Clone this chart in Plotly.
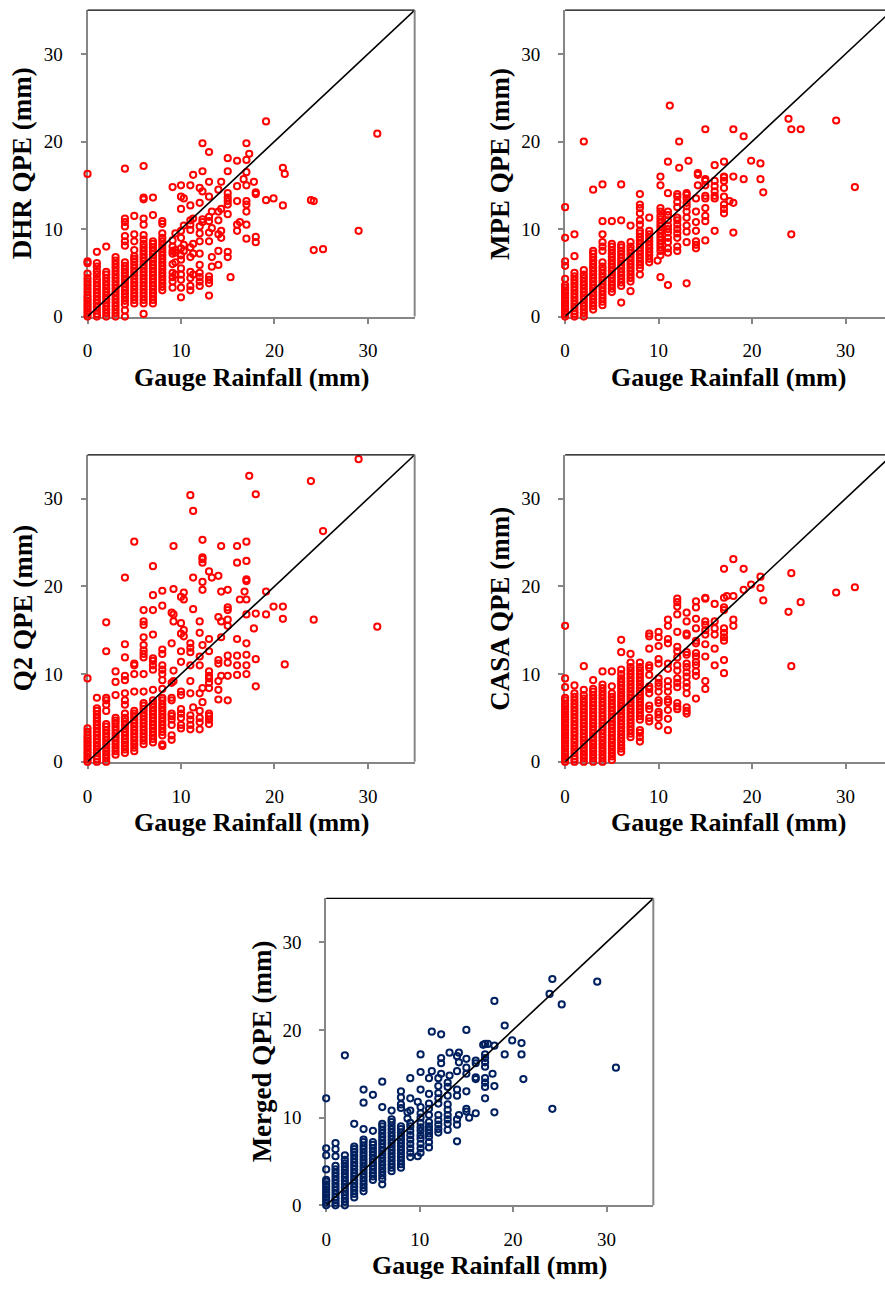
import plotly.graph_objects as go

# ---------------------------------------------------------------------------
# Gauge rainfall columns (mm) and the QPE values observed at each column (mm)
# ---------------------------------------------------------------------------
dhr_gauge = [0, 1, 2, 3, 4, 5, 6, 7, 8, 9.1, 9.4, 10.0, 10.3, 11.0, 11.3, 12.0, 12.3,
             13.0, 13.3, 14.0, 14.3, 15.0, 15.3, 16.0, 16.3, 16.7, 17.0, 17.3, 17.8,
             18.0, 19.1, 19.9, 20.9, 21.1, 23.9, 24.2, 25.2, 29.0, 31.0]
dhr_qpe = [
    [0, 0.3, 0.6, 0.9, 1.2, 1.5, 1.8, 2.1, 2.4, 2.8, 3.2, 3.6, 4.0, 4.4, 4.9, 6.1, 6.3, 16.3],
    [0, 0.3, 0.7, 1.1, 1.5, 1.9, 2.3, 2.7, 3.1, 3.5, 3.9, 4.3, 4.8, 5.2, 5.7, 6.1, 7.4],
    [0, 0.4, 0.8, 1.2, 1.6, 2.0, 2.4, 2.8, 3.2, 3.6, 4.0, 4.4, 4.8, 5.1, 8.0],
    [0, 0.4, 0.8, 1.2, 1.6, 2.0, 2.4, 2.8, 3.2, 3.6, 4.0, 4.4, 4.8, 5.2, 5.6, 6.0, 6.4, 6.8],
    [0, 0.7, 1.4, 1.8, 2.2, 2.6, 3.0, 3.4, 3.8, 4.2, 4.6, 5.0, 5.4, 5.8, 6.2, 8.1, 8.6, 9.2,
     10.3, 10.8, 11.2, 16.9],
    [1.5, 1.9, 2.3, 2.7, 3.1, 3.5, 3.9, 4.3, 4.7, 5.1, 5.5, 5.9, 6.3, 6.6, 6.9, 7.6, 8.6, 9.4, 11.5],
    [0.3, 1.5, 1.9, 2.3, 2.7, 3.1, 3.5, 3.9, 4.3, 4.7, 5.1, 5.5, 5.9, 6.3, 6.7, 7.1, 7.5, 7.9,
     8.3, 8.8, 9.3, 10.5, 11.2, 13.4, 13.6, 17.2],
    [1.5, 1.9, 2.3, 2.7, 3.1, 3.5, 3.9, 4.3, 4.7, 5.1, 5.5, 5.9, 6.3, 6.7, 7.1, 7.5, 7.9, 8.3,
     8.6, 11.6, 13.6],
    [3.0, 3.4, 3.8, 4.2, 4.6, 5.0, 5.4, 5.8, 6.2, 6.6, 7.0, 7.4, 7.8, 8.2, 8.6, 9.0, 9.5, 10.6, 10.9],
    [3.3, 4.0, 4.5, 5.0, 6.0, 7.2, 7.5, 8.0, 8.7, 14.8],
    [4.8, 6.2, 7.3, 7.6, 9.5],
    [2.2, 3.3, 4.2, 4.8, 5.5, 6.5, 7.0, 7.8, 9.0, 9.8, 12.3, 13.7, 15.0],
    [7.5, 8.2, 10.4, 13.5],
    [3.0, 3.5, 4.4, 5.1, 6.8, 7.9, 9.9, 10.5, 11.0, 12.7, 15.0],
    [4.8, 7.2, 8.3, 11.2, 16.2],
    [3.5, 4.0, 4.5, 5.0, 5.9, 7.2, 8.6, 9.5, 10.3, 13.0, 14.7],
    [10.8, 11.1, 14.3, 16.6, 19.8],
    [2.4, 3.8, 4.2, 4.6, 8.6, 9.6, 10.9, 11.4, 13.7, 15.4, 18.8],
    [5.7, 6.8, 10.1, 12.0],
    [5.9, 7.5, 9.4, 11.0, 12.0, 14.5],
    [9.0, 9.8, 12.3, 15.4],
    [6.8, 7.4, 11.7, 12.8, 13.2, 13.6, 14.1, 16.6, 18.1],
    [4.5],
    [9.8, 10.5, 13.2, 14.9, 17.8],
    [10.8],
    [15.7],
    [8.9, 10.5, 12.0, 12.8, 13.2, 15.0, 16.5, 17.9, 19.8],
    [18.6],
    [15.4],
    [8.5, 9.1, 14.0, 14.2],
    [13.3, 22.3],
    [13.5],
    [12.7, 17.0],
    [16.3],
    [13.3],
    [13.2, 7.6],
    [7.7],
    [9.8],
    [20.9],
]

mpe_gauge = [0, 1, 2, 3, 4, 5, 6, 7, 8, 9, 9.9, 10.2, 11.0, 11.2, 12.0, 12.2, 13.0, 13.2,
             14.0, 14.2, 15.0, 16.0, 17.0, 17.6, 18.0, 19.1, 19.9, 20.9, 21.2, 23.9, 24.2,
             25.2, 29.0, 31.0]
mpe_qpe = [
    [0, 0.3, 0.6, 0.9, 1.2, 1.5, 1.8, 2.1, 2.4, 2.7, 3.0, 3.3, 3.6, 4.3, 5.8, 6.3, 9.0, 12.5],
    [0, 0.3, 0.6, 1.0, 1.4, 1.8, 2.2, 2.6, 3.0, 3.4, 3.8, 4.2, 4.6, 5.0, 6.9, 9.4],
    [0, 0.4, 0.8, 1.2, 1.6, 2.0, 2.4, 2.8, 3.2, 3.6, 4.0, 4.4, 4.8, 5.3, 20.0],
    [0.8, 1.2, 1.6, 2.0, 2.4, 2.8, 3.2, 3.6, 4.0, 4.4, 4.8, 5.2, 5.6, 6.0, 6.4, 6.8, 7.2, 7.5, 14.5],
    [1.3, 1.7, 2.1, 2.5, 2.9, 3.3, 3.7, 4.1, 4.5, 4.9, 5.3, 5.7, 6.2, 7.5, 8.0, 8.5, 9.4, 10.9, 15.1],
    [2.8, 3.2, 3.6, 4.0, 4.4, 4.8, 5.2, 5.6, 6.0, 6.4, 6.8, 7.2, 7.6, 8.0, 8.3, 10.9],
    [1.6, 3.5, 3.9, 4.3, 4.7, 5.1, 5.5, 5.9, 6.3, 6.7, 7.1, 7.5, 7.9, 8.2, 11.0, 15.1],
    [2.9, 4.0, 4.4, 4.8, 5.2, 5.6, 6.0, 6.4, 6.8, 7.2, 7.6, 8.0, 8.5, 10.4],
    [4.8, 5.5, 5.9, 6.3, 6.7, 7.1, 7.5, 7.9, 8.3, 8.7, 9.1, 9.5, 9.8, 10.5, 11.0, 11.8, 12.4,
     12.8, 14.0],
    [6.2, 6.6, 7.0, 7.4, 7.8, 8.2, 8.6, 9.0, 9.4, 9.8, 11.3],
    [6.4],
    [4.5, 7.0, 7.5, 7.9, 8.3, 8.7, 9.1, 9.5, 9.9, 10.3, 10.7, 11.1, 11.5, 12.0, 12.4, 15.0, 16.0],
    [3.6, 7.3, 7.8, 8.5, 9.0, 9.6, 10.0, 10.4, 11.0, 11.6, 12.0, 14.1, 17.7],
    [24.1],
    [7.5, 8.0, 9.0, 9.5, 10.0, 10.5, 11.0, 11.3, 12.5, 13.1, 13.7, 14.0],
    [17.0, 20.0],
    [3.8, 8.5, 9.7, 10.4, 11.3, 12.0, 12.6, 13.0, 13.5, 13.9, 14.1],
    [17.8],
    [7.8, 8.2, 8.6, 9.8, 10.8, 12.0, 13.5],
    [15.0, 16.2, 16.4],
    [8.7, 10.9, 11.5, 12.4, 13.5, 13.8, 15.0, 15.5, 15.7, 21.4],
    [9.8, 13.5, 13.8, 14.3, 14.9, 15.5, 17.3],
    [11.8, 12.3, 12.8, 13.7, 14.7, 15.5, 15.9, 16.0, 17.7],
    [13.2],
    [9.6, 13.0, 16.0, 21.4],
    [15.7, 20.6],
    [17.8],
    [15.7, 17.5],
    [14.2],
    [22.6],
    [21.4, 9.4],
    [21.4],
    [22.4],
    [14.8],
]

q2_gauge = [0, 1, 2, 3, 4, 5, 6, 7, 8, 9.0, 9.2, 10.0, 10.3, 11.0, 11.3, 12.0, 12.3, 13.0,
            13.3, 14.0, 14.3, 15.0, 16.0, 16.3, 16.8, 17.0, 17.3, 17.8, 18.0, 19.1, 19.9,
            20.9, 21.1, 23.9, 24.2, 25.2, 29.0, 31.0]
q2_qpe = [
    [0, 0.3, 0.6, 0.9, 1.2, 1.5, 1.8, 2.1, 2.4, 2.7, 3.0, 3.4, 3.8, 9.5],
    [0, 0.3, 0.6, 1.0, 1.4, 1.8, 2.2, 2.6, 3.0, 3.4, 3.8, 4.2, 4.6, 5.0, 5.4, 5.8, 6.1, 7.3],
    [0, 0.4, 0.8, 1.2, 1.6, 2.0, 2.4, 2.8, 3.2, 3.6, 4.0, 4.3, 5.8, 6.5, 7.0, 7.3, 12.6, 15.9],
    [0.8, 1.2, 1.6, 2.0, 2.4, 2.8, 3.2, 3.6, 4.0, 4.4, 4.7, 5.0, 7.6, 9.1, 10.3],
    [1.0, 1.4, 1.8, 2.2, 2.6, 3.0, 3.4, 3.8, 4.2, 4.6, 5.0, 5.5, 6.5, 7.0, 7.8, 9.3, 9.8, 11.9,
     13.4, 21.0],
    [1.2, 1.6, 2.0, 2.4, 2.8, 3.2, 3.6, 4.0, 4.4, 4.8, 5.2, 5.5, 5.8, 8.0, 10.0, 11.0, 11.2, 25.1],
    [2.0, 2.4, 2.8, 3.2, 3.6, 4.0, 4.4, 4.8, 5.2, 5.6, 6.0, 6.4, 6.7, 8.0, 10.0, 11.9, 12.3,
     12.7, 13.3, 14.2, 15.6, 16.0, 17.3],
    [2.2, 2.6, 3.0, 3.4, 3.8, 4.2, 4.6, 5.0, 5.4, 5.8, 6.2, 6.6, 7.0, 8.2, 10.5, 11.0, 11.5,
     11.8, 14.5, 17.3, 19.0, 22.3],
    [1.8, 2.0, 3.0, 3.4, 3.8, 4.2, 4.6, 5.0, 5.4, 5.8, 6.2, 6.6, 7.0, 7.3, 8.3, 9.3, 10.0,
     10.5, 11.0, 12.3, 12.8, 17.8, 19.5],
    [2.5, 3.0, 4.2, 4.8, 5.2, 5.5, 7.0, 7.3, 9.0, 13.5, 17.0],
    [9.2, 10.4, 16.0, 16.8, 19.7, 24.6],
    [3.8, 4.2, 5.0, 5.5, 6.0, 7.6, 8.0, 11.4, 12.6, 14.6, 15.8, 18.8],
    [14.3, 15.0, 18.5, 19.3],
    [3.7, 4.2, 4.8, 5.3, 7.8, 9.2, 11.0, 12.5, 13.0, 13.5, 30.4],
    [6.2, 17.4, 21.0, 28.6],
    [3.7, 4.5, 5.0, 5.8, 7.8, 11.0, 12.0, 14.7, 16.0],
    [6.8, 8.4, 13.3, 19.6, 20.5, 22.7, 23.1, 23.3, 25.3],
    [4.3, 4.8, 5.2, 5.5, 8.4, 9.0, 9.5, 9.8, 10.3, 12.6, 14.0, 21.7],
    [21.0],
    [7.1, 8.2, 9.2, 11.2, 11.6, 16.5, 21.2],
    [9.8, 14.2, 16.0, 19.4, 24.6],
    [7.0, 9.8, 11.3, 12.1, 15.5, 16.2, 17.3, 17.6, 19.6],
    [9.9, 11.0, 12.1, 14.0, 22.7, 24.6],
    [18.5],
    [19.4],
    [10.0, 11.0, 12.2, 13.5, 16.8, 18.5, 20.6, 20.8, 22.9, 25.1],
    [32.6],
    [15.2],
    [8.6, 11.7, 16.9, 30.5],
    [16.8, 19.4],
    [17.7],
    [16.3, 17.7],
    [11.1],
    [32.0],
    [16.2],
    [26.3],
    [34.5],
    [15.4],
]

casa_gauge = [0, 1, 2, 3, 4, 5, 6, 7, 8, 9, 10, 11, 12, 13, 14, 15, 16, 17, 17.3, 18,
              19.1, 19.9, 20.9, 21.2, 23.9, 24.2, 25.2, 29.0, 31.0]
casa_qpe = [
    [0, 0.3, 0.6, 0.9, 1.2, 1.5, 1.8, 2.1, 2.4, 2.7, 3.0, 3.3, 3.6, 3.9, 4.2, 4.5, 4.8, 5.1,
     5.4, 5.7, 6.0, 6.3, 6.6, 7.0, 7.3, 8.5, 9.5, 15.5],
    [0, 0.3, 0.6, 1.0, 1.4, 1.8, 2.2, 2.6, 3.0, 3.4, 3.8, 4.2, 4.6, 5.0, 5.4, 5.8, 6.2, 6.6,
     7.0, 7.4, 7.8, 8.7],
    [0, 0.4, 0.8, 1.2, 1.6, 2.0, 2.4, 2.8, 3.2, 3.6, 4.0, 4.4, 4.8, 5.2, 5.6, 6.0, 6.4, 6.8,
     7.2, 7.6, 8.2, 10.9],
    [0, 0.4, 0.8, 1.2, 1.6, 2.0, 2.4, 2.8, 3.2, 3.6, 4.0, 4.4, 4.8, 5.2, 5.6, 6.0, 6.4, 6.8,
     7.2, 7.6, 8.0, 8.3, 9.3],
    [0, 0.4, 0.8, 1.2, 1.6, 2.0, 2.4, 2.8, 3.2, 3.6, 4.0, 4.4, 4.8, 5.2, 5.6, 6.0, 6.4, 6.8,
     7.2, 7.6, 8.0, 8.4, 8.8, 10.3],
    [0.2, 0.6, 1.0, 1.4, 1.8, 2.2, 2.6, 3.0, 3.4, 3.8, 4.2, 4.6, 5.0, 5.4, 5.8, 6.2, 6.6, 7.0,
     7.4, 7.8, 8.6, 10.3],
    [1.1, 1.5, 1.9, 2.3, 2.7, 3.1, 3.5, 3.9, 4.3, 4.7, 5.1, 5.5, 5.9, 6.3, 6.7, 7.1, 7.5, 7.9,
     8.3, 8.7, 9.1, 9.5, 10.0, 10.5, 12.5, 13.9],
    [2.8, 3.2, 3.6, 4.0, 4.4, 4.8, 5.2, 5.6, 6.0, 6.4, 6.8, 7.2, 7.6, 8.0, 8.4, 8.8, 9.2, 9.6,
     10.0, 10.4, 10.8, 11.3, 12.3],
    [2.3, 2.8, 3.3, 3.6, 4.8, 5.2, 5.6, 6.0, 6.4, 6.8, 7.2, 7.6, 8.0, 8.4, 8.8, 9.2, 9.6, 10.0,
     10.4, 10.8, 11.3],
    [4.6, 5.0, 6.0, 6.4, 7.8, 8.3, 8.6, 9.9, 10.7, 11.0, 12.9, 14.3, 14.6],
    [4.1, 5.0, 5.4, 5.7, 6.7, 7.0, 8.0, 8.6, 9.0, 9.5, 11.2, 11.7, 13.2, 14.2, 14.8],
    [3.6, 4.9, 5.9, 6.8, 7.1, 8.0, 8.6, 9.2, 10.6, 11.2, 13.5, 14.0, 15.5, 16.2],
    [6.0, 6.3, 6.7, 8.5, 9.0, 9.5, 10.4, 11.0, 11.9, 12.6, 13.1, 14.8, 16.8, 17.7, 18.2, 18.6],
    [5.5, 5.8, 6.2, 7.8, 8.5, 9.0, 9.7, 10.2, 10.8, 11.2, 12.2, 12.5, 14.4, 14.6, 16.0, 17.0],
    [7.2, 9.8, 10.3, 11.0, 11.4, 12.0, 12.4, 13.5, 13.8, 15.2, 16.3, 17.6, 18.3],
    [8.3, 9.2, 12.0, 13.4, 14.5, 15.0, 15.6, 16.0, 18.6, 18.7],
    [11.0, 12.9, 14.5, 15.2, 16.0, 18.0],
    [10.1, 11.6, 13.8, 14.2, 14.7, 15.2, 17.3, 17.6, 18.7, 22.0],
    [18.9],
    [15.5, 16.2, 18.9, 23.1],
    [19.6, 22.0],
    [20.2],
    [19.8, 21.1],
    [18.4],
    [17.1],
    [21.5, 10.9],
    [18.2],
    [19.3],
    [19.9],
]

merged_gauge = [0, 1, 2, 3, 4, 5, 6, 7, 8, 8.7, 9, 9.8, 10.1, 11.0, 11.3, 12.0, 12.3,
                13.0, 13.2, 14.0, 14.2, 15.0, 15.3, 16.0, 16.8, 17.0, 17.3, 17.8, 18.0,
                19.1, 19.9, 20.9, 21.1, 23.9, 24.2, 25.2, 29.0, 31.0]
merged_qpe = [
    [0, 0.3, 0.6, 0.9, 1.2, 1.5, 1.8, 2.1, 2.4, 2.7, 2.9, 4.1, 5.7, 6.5, 12.2],
    [0, 0.3, 0.6, 0.9, 1.3, 1.7, 2.1, 2.5, 2.9, 3.3, 3.7, 4.1, 4.5, 5.6, 6.4, 7.1],
    [0, 0.4, 0.8, 1.2, 1.6, 2.0, 2.4, 2.8, 3.2, 3.6, 4.0, 4.4, 4.8, 5.2, 5.7, 17.1],
    [0.9, 1.3, 1.7, 2.1, 2.5, 2.9, 3.3, 3.7, 4.1, 4.5, 4.9, 5.3, 5.7, 6.1, 6.4, 6.7, 9.3],
    [1.6, 2.0, 2.4, 2.8, 3.2, 3.6, 4.0, 4.4, 4.8, 5.2, 5.6, 6.0, 6.4, 6.8, 7.2, 7.5, 8.7,
     11.7, 13.2],
    [2.9, 3.3, 3.7, 4.1, 4.5, 4.9, 5.3, 5.7, 6.1, 6.5, 6.9, 7.2, 8.5, 12.6],
    [2.4, 3.0, 3.4, 3.8, 4.2, 4.6, 5.0, 5.4, 5.8, 6.2, 6.6, 7.0, 7.4, 7.8, 8.2, 8.6, 9.0, 9.3,
     11.2, 14.1],
    [3.9, 4.3, 4.7, 5.1, 5.5, 5.9, 6.3, 6.7, 7.1, 7.5, 7.9, 8.3, 8.7, 9.1, 9.5, 9.8, 10.8],
    [4.3, 4.7, 5.1, 5.5, 5.9, 6.3, 6.7, 7.1, 7.5, 7.9, 8.3, 8.7, 9.0, 11.1, 11.5, 12.3, 13.0],
    [9.9, 10.6],
    [5.5, 6.0, 6.5, 7.0, 7.5, 8.0, 8.5, 9.0, 9.4, 10.8, 12.2, 14.5],
    [5.6, 11.8],
    [6.0, 6.5, 7.0, 7.6, 8.0, 8.5, 8.9, 9.4, 10.0, 10.5, 11.2, 13.2, 15.2, 17.2],
    [6.6, 7.2, 7.8, 8.2, 8.6, 9.0, 9.5, 10.3, 11.0, 11.6, 12.7, 14.5],
    [15.3, 19.8],
    [8.3, 8.7, 9.2, 9.7, 10.3, 11.6, 12.2, 12.8, 13.6, 14.5],
    [15.0, 16.2, 16.8, 19.5],
    [8.6, 9.3, 9.8, 10.3, 10.9, 11.5, 12.5, 13.5, 14.0],
    [14.8, 17.4],
    [7.3, 9.2, 9.8, 12.5, 13.2, 15.3, 17.0],
    [10.3, 16.3, 17.4],
    [10.7, 11.0, 13.0, 15.0, 15.7, 16.7, 20.0],
    [10.0],
    [10.5, 14.4, 14.6, 16.2, 16.5],
    [18.3],
    [12.2, 13.5, 14.0, 14.5, 15.8, 16.3, 16.8, 17.2, 18.4],
    [18.4],
    [15.0],
    [10.6, 13.6, 18.2, 23.3],
    [17.2, 20.5],
    [18.8],
    [17.2, 18.5],
    [14.4],
    [24.1],
    [25.8, 11.0],
    [22.9],
    [25.5],
    [15.7],
]

y_titles = ["DHR QPE (mm)", "MPE QPE (mm)", "Q2 QPE (mm)", "CASA QPE (mm)", "Merged QPE (mm)"]
x_title = "Gauge Rainfall (mm)"
tick_values = [0, 10, 20, 30]
axis_max = 35

# ---------------------------------------------------------------------------
# Page geometry (pixels)
# ---------------------------------------------------------------------------
W, H = 885, 1294
PLOT_W = 329          # pixel width covering 0..35 mm on the x axis

RED = "#ff0000"
NAVY = "#002060"
AXIS_GREY = "#868686"
SERIF = "Liberation Serif"

# data, y title, marker colour, left, top, bottom of each panel
panels = [
    (dhr_gauge, dhr_qpe, y_titles[0], RED, 83.0, 10.3, 319.3),
    (mpe_gauge, mpe_qpe, y_titles[1], RED, 563.3, 10.3, 319.3),
    (q2_gauge, q2_qpe, y_titles[2], RED, 83.0, 458.7, 768.3),
    (casa_gauge, casa_qpe, y_titles[3], RED, 563.3, 458.7, 768.3),
    (merged_gauge, merged_qpe, y_titles[4], NAVY, 323.0, 906.0, 1215.7),
]


def fx(p):
    return p / W


def fy(p):
    return 1 - p / H


fig = go.Figure()
layout = {}
shapes = []
annotations = []

for i, (gauge, qpe, ytitle, color, left, top, bottom) in enumerate(panels, start=1):
    sfx = "" if i == 1 else str(i)
    xa, ya = "x" + sfx, "y" + sfx

    right = min(left + PLOT_W, W)
    x_max = axis_max * (right - left) / PLOT_W
    full_right = left + PLOT_W

    xs = [g for g, col in zip(gauge, qpe) for _ in col]
    ys = [v for col in qpe for v in col]

    fig.add_trace(go.Scatter(
        x=xs, y=ys, xaxis=xa, yaxis=ya, mode="markers", cliponaxis=False,
        marker=dict(symbol="circle-open", size=6.2, color=color,
                    line=dict(width=2.0, color=color)),
        showlegend=False, hoverinfo="x+y",
    ))
    # 1:1 reference line
    fig.add_trace(go.Scatter(
        x=[0, axis_max], y=[0, axis_max], xaxis=xa, yaxis=ya, mode="lines",
        line=dict(color="black", width=1.6), showlegend=False, hoverinfo="skip",
    ))

    common = dict(
        tickvals=tick_values, showgrid=False, zeroline=False,
        showline=True, linecolor=AXIS_GREY, linewidth=2,
        ticks="outside", ticklen=5, tickwidth=1.5, tickcolor=AXIS_GREY,
        tickfont=dict(family=SERIF, size=19, color="black"),
        layer="below traces", fixedrange=True,
    )
    layout["xaxis" + sfx] = dict(common, domain=[fx(left), fx(right)],
                                 range=[0, x_max], anchor=ya, ticklabelstandoff=11)
    layout["yaxis" + sfx] = dict(common, domain=[fy(bottom), fy(top)],
                                 range=[0, axis_max], anchor=xa, ticklabelstandoff=14)

    # frame: black top edge, grey right edge when it is on the page
    shapes.append(dict(type="line", xref=xa + " domain", yref=ya + " domain",
                       x0=0, x1=1, y0=1, y1=1, line=dict(color="black", width=1.2)))
    if full_right <= W:
        shapes.append(dict(type="line", xref=xa + " domain", yref=ya + " domain",
                           x0=1, x1=1, y0=0, y1=1, line=dict(color=AXIS_GREY, width=2)))

    # axis titles
    annotations.append(dict(
        text="<b>%s</b>" % x_title, xref="paper", yref="paper",
        x=fx((left + full_right) / 2), y=fy(bottom + 61), xanchor="center", yanchor="middle",
        showarrow=False, font=dict(family=SERIF, size=26, color="black"),
    ))
    annotations.append(dict(
        text="<b>%s</b>" % ytitle, xref="paper", yref="paper", textangle=-90,
        x=fx(left - 65), y=fy((top + bottom) / 2), xanchor="center", yanchor="middle",
        showarrow=False, font=dict(family=SERIF, size=27, color="black"),
    ))

fig.update_layout(
    width=W, height=H, margin=dict(l=0, r=0, t=0, b=0),
    paper_bgcolor="white", plot_bgcolor="white",
    shapes=shapes, annotations=annotations, **layout,
)

fig.write_html("out.html", include_plotlyjs=True, config={"displayModeBar": False})
